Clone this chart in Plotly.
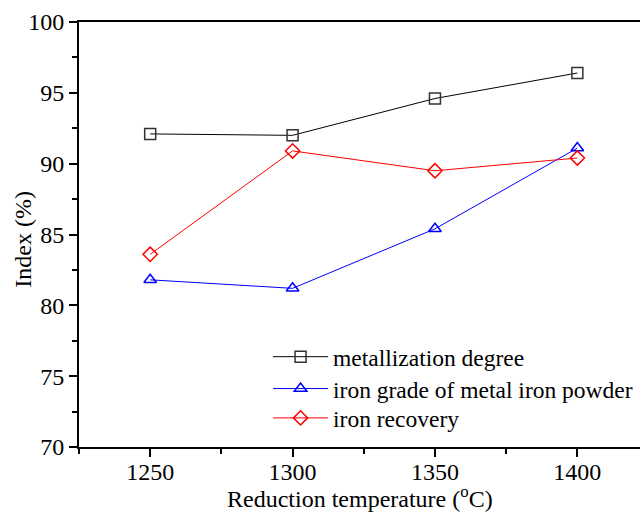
import plotly.graph_objects as go

temperature = [1250, 1300, 1350, 1400]
metallization = [92.1, 92.0, 94.6, 96.4]
iron_grade = [81.8, 81.2, 85.4, 91.1]
iron_recovery = [83.6, 90.9, 89.5, 90.4]

FONT = "Liberation Serif, Times New Roman, serif"
FS = 24

fig = go.Figure()
series = [
    ("metallization degree", metallization, "#000000", "#333333", "square-open", "legend", 0.212),
    ("iron grade of metal iron powder", iron_grade, "#0000ff", "#0000ff", "triangle-up-open", "legend2", 0.137),
    ("iron recovery", iron_recovery, "#ff0000", "#ff0000", "diamond-open", "legend3", 0.068),
]
legends = {}
for name, vals, lc, mc, sym, lg, ly in series:
    fig.add_trace(go.Scatter(
        x=temperature, y=vals, name=name, mode="lines+markers", legend=lg,
        line=dict(color=lc, width=1),
        marker=dict(symbol=sym, size=11, color=mc, line=dict(color=mc, width=1.5)),
    ))
    legends[lg] = dict(x=0.337, y=ly, xanchor="left", yanchor="middle",
                       bgcolor="rgba(0,0,0,0)", font=dict(family=FONT, size=23.5),
                       itemwidth=55)

fig.update_layout(
    width=640, height=515,
    margin=dict(l=79, r=0, t=22, b=68, autoexpand=False),
    plot_bgcolor="white", paper_bgcolor="white",
    font=dict(family=FONT, size=FS, color="black"),
    showlegend=True,
    **legends,
    xaxis=dict(
        range=[1225, 1422], dtick=50, tick0=1250,
        ticks="outside", ticklen=8, tickwidth=2, tickcolor="black",
        ticklabelstandoff=-6,
        minor=dict(dtick=25, ticks="outside", ticklen=5, tickwidth=2, tickcolor="black", showgrid=False),
        showline=True, linecolor="black", linewidth=2, mirror=True,
        showgrid=False, zeroline=False,
        tickfont=dict(family=FONT, size=FS),
    ),
    yaxis=dict(
        range=[70, 100], dtick=5, tick0=70,
        ticks="outside", ticklen=8, tickwidth=2, tickcolor="black",
        minor=dict(dtick=2.5, ticks="outside", ticklen=5, tickwidth=2, tickcolor="black", showgrid=False),
        showline=True, linecolor="black", linewidth=2, mirror=False,
        showgrid=False, zeroline=False,
        tickfont=dict(family=FONT, size=FS),
    ),
    annotations=[
        dict(text="Reduction temperature (<sup>o</sup>C)", xref="paper", yref="paper",
             x=0.5, y=-0.118, xanchor="center", yanchor="middle", showarrow=False,
             font=dict(family=FONT, size=FS)),
        dict(text="Index (%)", xref="paper", yref="paper", textangle=-90,
             x=-0.1, y=0.49, xanchor="center", yanchor="middle", showarrow=False,
             font=dict(family=FONT, size=FS)),
    ],
)

fig.write_html("out.html")
